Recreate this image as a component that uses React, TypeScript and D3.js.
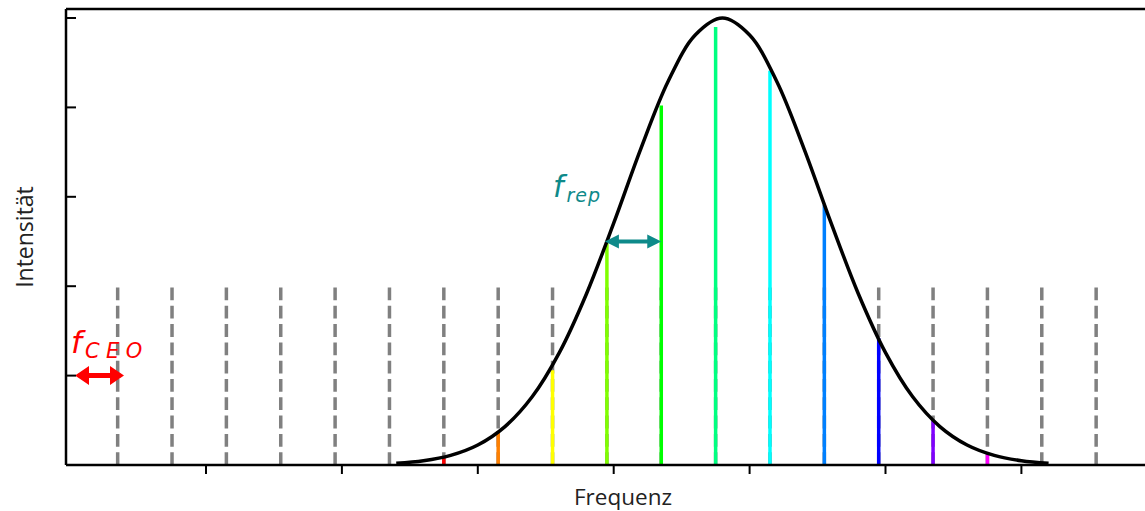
import React from "react";
import * as d3 from "d3";

const W = 1145;
const H = 511;

// comb modes: f_n = fCEO + n * fRep
const fCEO = 0.35;
const fRep = 0.4;
const modeIndex = d3.range(0, 19);
const dashHeight = 2;

// coloured modes under the envelope (frequency, intensity, colour)
const colFreq = [2.75, 3.15, 3.55, 3.95, 4.35, 4.75, 5.15, 5.55, 5.95, 6.35, 6.75, 7.15];
const colVal = [0.08, 0.38, 1.06, 2.5, 4.02, 4.9, 4.41, 2.91, 1.42, 0.5, 0.12, 0.025];
const colColor = ["#ff0000", "#ff8000", "#ffff00", "#80ff00", "#00ff00", "#00ff80", "#00ffff", "#0080ff", "#0000ff", "#8000ff", "#ff00ff", "#ff0080"];

// envelope
const envX = [2.4, 2.6, 2.8, 3.0, 3.2, 3.4, 3.6, 3.8, 4.0, 4.2, 4.4, 4.6, 4.8, 5.0, 5.2, 5.4, 5.6, 5.8, 6.0, 6.2, 6.4, 6.6, 6.8, 7.0, 7.2];
const envY = [0.02, 0.048, 0.108, 0.224, 0.43, 0.763, 1.257, 1.916, 2.706, 3.54, 4.29, 4.81, 5.0, 4.81, 4.29, 3.54, 2.706, 1.916, 1.257, 0.763, 0.43, 0.224, 0.108, 0.048, 0.02];

const xTicks = [1, 2, 3, 4, 5, 6, 7];
const yTicks = [0, 1, 2, 3, 4, 5];

export default function App() {
  const x = d3.scaleLinear().domain([0, 8]).range([70.1, 70.1 + 8 * 135.9]);
  const y = d3.scaleLinear().domain([0, 5]).range([465, 18]);
  const left = 66;
  const top = y(5.1);
  const bottom = y(0);

  const line = d3
    .line<number>()
    .x((_, i) => x(envX[i]))
    .y((d) => y(d))
    .curve(d3.curveCatmullRom.alpha(0.5));

  const arrow = (x1: number, x2: number, yy: number, color: string, hl: number, hw: number, sw: number) => {
    const p = d3.path();
    p.moveTo(x1, yy);
    p.lineTo(x1 + hl, yy - hw);
    p.lineTo(x1 + hl, yy - sw / 2);
    p.lineTo(x2 - hl, yy - sw / 2);
    p.lineTo(x2 - hl, yy - hw);
    p.lineTo(x2, yy);
    p.lineTo(x2 - hl, yy + hw);
    p.lineTo(x2 - hl, yy + sw / 2);
    p.lineTo(x1 + hl, yy + sw / 2);
    p.lineTo(x1 + hl, yy + hw);
    p.closePath();
    return <path d={p.toString()} fill={color} stroke="none" />;
  };

  return (
    <svg width={W} height={H} style={{ position: "absolute", left: 0, top: 0 }}>
      <rect width={W} height={H} fill="#ffffff" />
      {/* dashed comb */}
      {modeIndex.map((n) => (
        <line
          key={"d" + n}
          x1={x(fCEO + n * fRep)}
          x2={x(fCEO + n * fRep)}
          y1={y(0)}
          y2={y(dashHeight)}
          stroke="#808080"
          strokeWidth={3.5}
          strokeDasharray="12.8,5.5"
        />
      ))}
      {/* coloured modes */}
      {colFreq.map((f, i) => (
        <line
          key={"c" + i}
          x1={x(f)}
          x2={x(f)}
          y1={y(colVal[i])}
          y2={y(0)}
          stroke={colColor[i]}
          strokeWidth={3.5}
        />
      ))}
      {/* envelope */}
      <path d={line(envY) || ""} fill="none" stroke="#000" strokeWidth={3.5} />
      {/* arrows */}
      {arrow(x(3.95) - 2, x(4.35), y(2.5), "#0e8a8a", 14, 7, 4)}
      {arrow(75, 124, y(1), "#ff0000", 14, 9.5, 5)}
      {/* annotation text */}
      <text x={553} y={197} fill="#0e8a8a" fontFamily="'DejaVu Sans', sans-serif" fontStyle="italic">
        <tspan fontSize={30}>f</tspan>
        <tspan fontSize={19} dy={5} dx={3} letterSpacing={1}>rep</tspan>
      </text>
      <text x={71} y={353} fill="#ff0000" fontFamily="'DejaVu Sans', sans-serif" fontStyle="italic">
        <tspan fontSize={31}>f</tspan>
        <tspan fontSize={21} dy={5} dx={3} letterSpacing={6.5}>CEO</tspan>
      </text>
      {/* frame */}
      <line x1={left} x2={W} y1={bottom} y2={bottom} stroke="#000" strokeWidth={2.5} />
      <line x1={left} x2={W} y1={top} y2={top} stroke="#000" strokeWidth={2.5} />
      <line x1={left} x2={left} y1={top} y2={bottom} stroke="#000" strokeWidth={2.5} />
      {xTicks.map((t) => (
        <line key={"xt" + t} x1={x(t)} x2={x(t)} y1={bottom} y2={bottom + 9} stroke="#000" strokeWidth={2} />
      ))}
      {yTicks.map((t) => (
        <line key={"yt" + t} x1={left} x2={left + 10} y1={y(t)} y2={y(t)} stroke="#000" strokeWidth={2} />
      ))}
      <text x={623} y={505} textAnchor="middle" fontFamily="'Open Sans', sans-serif" fontSize={22.5} fill="#222">
        Frequenz
      </text>
      <text
        transform={`translate(33, ${(top + bottom) / 2}) rotate(-90)`}
        textAnchor="middle"
        fontFamily="'Open Sans', sans-serif"
        fontSize={23}
        fill="#222"
      >
        Intensität
      </text>
    </svg>
  );
}
